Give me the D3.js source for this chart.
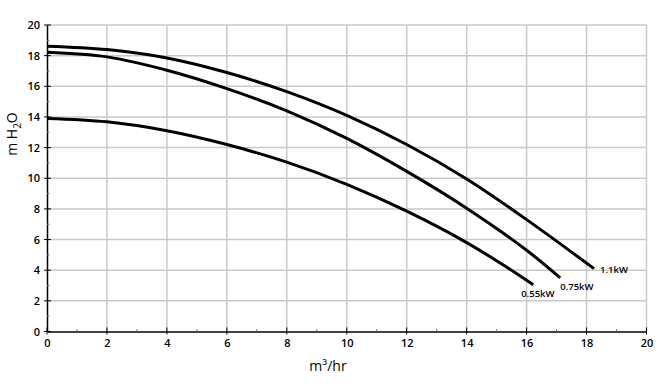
<!DOCTYPE html>
<html>
<head>
<meta charset="utf-8">
<script src="https://cdn.jsdelivr.net/npm/d3@7"></script>
<style>
  html, body { margin: 0; padding: 0; background: #fff; }
  svg { display: block; }
  text { font-family: "Open Sans", "DejaVu Sans", sans-serif; }
</style>
</head>
<body>
<svg id="chart" width="661" height="392"></svg>
<script>
// ---- data ----
const xTicks = [0, 2, 4, 6, 8, 10, 12, 14, 16, 18, 20];
const yTicks = [0, 2, 4, 6, 8, 10, 12, 14, 16, 18, 20];
const seriesNames = ["1.1kW", "0.75kW", "0.55kW"];
const flow11 = [0, 2, 4, 6, 8, 10, 12, 14, 16, 18.25];
const head11 = [18.62, 18.4, 17.85, 16.9, 15.65, 14.1, 12.2, 9.95, 7.3, 4.1];
const flow075 = [0, 2, 4, 6, 8, 10, 12, 14, 16, 17.12];
const head075 = [18.22, 17.92, 17.05, 15.85, 14.4, 12.6, 10.45, 8.05, 5.3, 3.5];
const flow055 = [0, 2, 4, 6, 8, 10, 12, 14, 16, 16.22];
const head055 = [13.9, 13.68, 13.1, 12.2, 11.05, 9.6, 7.85, 5.8, 3.35, 3.05];
const xLabel = "m³/hr";

const series = [
  { name: seriesNames[0], x: flow11, y: head11, dx: 6, dy: 4 },
  { name: seriesNames[1], x: flow075, y: head075, dx: 0, dy: 12 },
  { name: seriesNames[2], x: flow055, y: head055, dx: -12, dy: 12 }
];

const svg = d3.select("#chart");
const x = d3.scaleLinear().domain([0, 20]).range([47, 646.5]);
const y = d3.scaleLinear().domain([0, 20]).range([331.5, 25]);

// grid
const grid = svg.append("g");
grid.selectAll(".vg").data(xTicks.filter(d => d > 0)).join("line")
  .attr("x1", d => x(d)).attr("x2", d => x(d))
  .attr("y1", y(0)).attr("y2", y(20))
  .attr("stroke", "#c9c9cd").attr("stroke-width", 1.5);
grid.selectAll(".hg").data(yTicks.filter(d => d > 0)).join("line")
  .attr("x1", x(0)).attr("x2", x(20))
  .attr("y1", d => y(d)).attr("y2", d => y(d))
  .attr("stroke", "#c9c9cd").attr("stroke-width", 1.5);

// axes
const xAxis = svg.append("g").attr("transform", `translate(0,${y(0)})`)
  .call(d3.axisBottom(x).tickValues(xTicks).tickSize(0).tickPadding(8).tickFormat(d3.format("d")));
xAxis.select(".domain").attr("stroke", "#000").attr("stroke-width", 1.5);
xAxis.selectAll("text").attr("font-size", 11).attr("font-weight", 600).attr("fill", "#000");
svg.append("g").selectAll("line").data(d3.range(0, 21)).join("line")
  .attr("x1", d => x(d)).attr("x2", d => x(d))
  .attr("y1", d => y(0) - (d % 2 === 0 ? 4 : 2.5))
  .attr("y2", d => y(0) + (d % 2 === 0 ? 3 : 0))
  .attr("stroke", d => d % 2 === 0 ? "#000" : "#777").attr("stroke-width", 1);

const yAxis = svg.append("g").attr("transform", `translate(${x(0)},0)`)
  .call(d3.axisLeft(y).tickValues(yTicks).tickSize(0).tickPadding(7).tickFormat(d3.format("d")));
yAxis.select(".domain").attr("stroke", "#000").attr("stroke-width", 1.5);
yAxis.selectAll("text").attr("font-size", 11).attr("font-weight", 600).attr("fill", "#000");
svg.append("g").selectAll("line").data(d3.range(0, 21)).join("line")
  .attr("y1", d => y(d)).attr("y2", d => y(d))
  .attr("x1", d => x(0) - (d % 2 === 0 ? 3 : 0))
  .attr("x2", d => x(0) + (d % 2 === 0 ? 4 : 2.5))
  .attr("stroke", d => d % 2 === 0 ? "#000" : "#777").attr("stroke-width", 1);

// curves
const line = d3.line().x(d => x(d[0])).y(d => y(d[1])).curve(d3.curveCatmullRom.alpha(0.5));
series.forEach(s => {
  const pts = s.x.map((v, i) => [v, s.y[i]]);
  svg.append("path").datum(pts).attr("d", line)
    .attr("fill", "none").attr("stroke", "#000").attr("stroke-width", 3)
    .attr("stroke-linecap", "butt");
  const last = pts[pts.length - 1];
  svg.append("text")
    .attr("x", x(last[0]) + s.dx).attr("y", y(last[1]) + s.dy)
    .attr("font-size", 9.5).attr("font-weight", 600).attr("fill", "#000")
    .text(s.name);
});

// axis titles
svg.append("text").attr("x", 328).attr("y", 371).attr("text-anchor", "middle")
  .attr("font-size", 14).attr("fill", "#000").text(xLabel);
const yt = svg.append("text").attr("transform", "translate(17,134) rotate(-90)")
  .attr("text-anchor", "middle").attr("font-size", 14).attr("fill", "#000");
yt.append("tspan").text("m H");
yt.append("tspan").attr("font-size", 10).attr("dy", 4).text("2");
yt.append("tspan").attr("dy", -4).text("O");
</script>
</body>
</html>
